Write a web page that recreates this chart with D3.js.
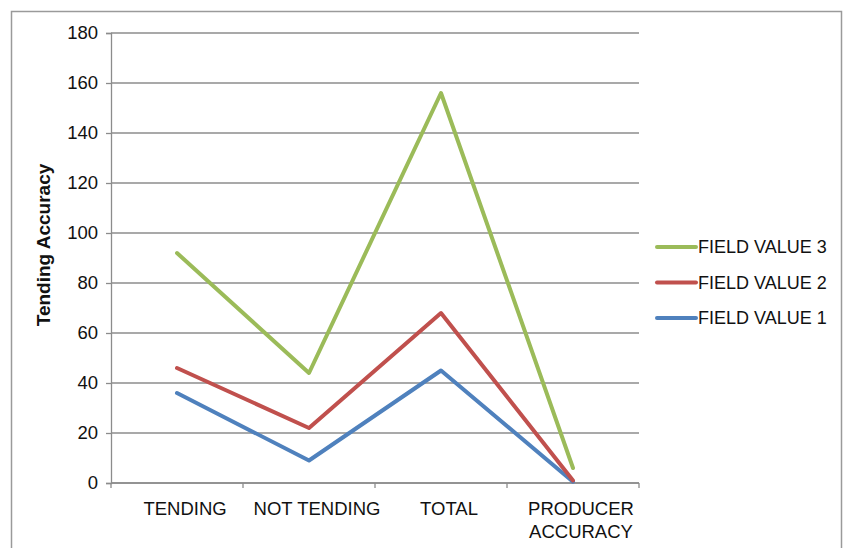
<!DOCTYPE html>
<html>
<head>
<meta charset="utf-8">
<script src="https://cdn.jsdelivr.net/npm/d3@7"></script>
<style>
  html, body { margin: 0; padding: 0; background: #fff; }
  svg { display: block; font-family: "Liberation Sans", Arial, Helvetica, sans-serif; }
</style>
</head>
<body>
<svg id="chart" width="843" height="548"></svg>
<script>
// Categories along the x axis
const categories = ["TENDING", "NOT TENDING", "TOTAL", "PRODUCER ACCURACY"];
// Series values, one per category
const fieldValue1 = [36, 9, 45, 0.5];
const fieldValue2 = [46, 22, 68, 1];
const fieldValue3 = [92, 44, 156, 6];
// Y-axis tick labels
const yTicks = [0, 20, 40, 60, 80, 100, 120, 140, 160, 180];

const series = [
  { name: "FIELD VALUE 3", values: fieldValue3, color: "#9BBB59" },
  { name: "FIELD VALUE 2", values: fieldValue2, color: "#C0504D" },
  { name: "FIELD VALUE 1", values: fieldValue1, color: "#4F81BD" }
];

const svg = d3.select("#chart");
const margin = { left: 111, top: 33, right: 639, bottom: 483 };

// Outer chart frame
svg.append("rect")
  .attr("x", 11.5).attr("y", 11.5)
  .attr("width", 830).attr("height", 560)
  .attr("fill", "#fff")
  .attr("stroke", "#9a9a9a")
  .attr("stroke-width", 1.5);

const x = d3.scaleBand().domain(categories).range([margin.left, margin.right]);
const y = d3.scaleLinear().domain([0, 180]).range([margin.bottom, margin.top]);

// Horizontal gridlines
svg.append("g")
  .selectAll("line")
  .data(yTicks)
  .join("line")
  .attr("x1", margin.left).attr("x2", margin.right)
  .attr("y1", d => y(d)).attr("y2", d => y(d))
  .attr("stroke", "#8c8c8c").attr("stroke-width", 1.3);

// Y axis
const yAxis = svg.append("g")
  .attr("transform", `translate(${margin.left},0)`)
  .call(d3.axisLeft(y).tickValues(yTicks).tickSize(5).tickPadding(8));
yAxis.select(".domain").attr("stroke", "#8c8c8c").attr("stroke-width", 1.3);
yAxis.selectAll(".tick line").attr("stroke", "#8c8c8c").attr("stroke-width", 1.3);
yAxis.selectAll(".tick text")
  .attr("font-size", 18.5).attr("fill", "#111")
  .attr("font-family", "Liberation Sans, Arial, sans-serif");

// X axis with category boundary ticks
const xAxisG = svg.append("g");
xAxisG.append("line")
  .attr("x1", margin.left).attr("x2", margin.right)
  .attr("y1", y(0)).attr("y2", y(0))
  .attr("stroke", "#8c8c8c").attr("stroke-width", 1.3);
const bounds = categories.map(c => x(c)).concat([x(categories[categories.length - 1]) + x.bandwidth()]);
xAxisG.selectAll("line.tick")
  .data(bounds)
  .join("line")
  .attr("class", "tick")
  .attr("x1", d => d).attr("x2", d => d)
  .attr("y1", y(0)).attr("y2", y(0) + 5)
  .attr("stroke", "#8c8c8c").attr("stroke-width", 1.3);

// Category labels (wrapped on spaces when they are wider than the band)
const labelLines = {
  "TENDING": ["TENDING"],
  "NOT TENDING": ["NOT TENDING"],
  "TOTAL": ["TOTAL"],
  "PRODUCER ACCURACY": ["PRODUCER", "ACCURACY"]
};
categories.forEach(c => {
  const cx = x(c) + x.bandwidth() / 2 + 8;
  const t = svg.append("text")
    .attr("x", cx)
    .attr("y", 514.5)
    .attr("text-anchor", "middle")
    .attr("font-size", 18.5)
    .attr("fill", "#111");
  labelLines[c].forEach((ln, i) => {
    t.append("tspan")
      .attr("x", cx)
      .attr("dy", i === 0 ? 0 : 23)
      .text(ln);
  });
});

// Y axis title
svg.append("text")
  .attr("transform", "translate(50,245) rotate(-90)")
  .attr("text-anchor", "middle")
  .attr("font-size", 19)
  .attr("font-weight", "bold")
  .attr("fill", "#111")
  .text("Tending Accuracy");

// Series lines
const line = d3.line()
  .x((d, i) => x(categories[i]) + x.bandwidth() / 2)
  .y(d => y(d));

svg.append("g")
  .selectAll("path")
  .data(series.slice().reverse())
  .join("path")
  .attr("d", s => line(s.values))
  .attr("fill", "none")
  .attr("stroke", s => s.color)
  .attr("stroke-width", 4)
  .attr("stroke-linejoin", "round")
  .attr("stroke-linecap", "round");

// Legend
const legend = svg.append("g");
series.forEach((s, i) => {
  const ly = 247 + i * 35.5;
  legend.append("line")
    .attr("x1", 657).attr("x2", 696)
    .attr("y1", ly).attr("y2", ly)
    .attr("stroke", s.color).attr("stroke-width", 4)
    .attr("stroke-linecap", "round");
  legend.append("text")
    .attr("x", 698).attr("y", ly)
    .attr("dy", "0.36em")
    .attr("font-size", 18)
    .attr("fill", "#111")
    .text(s.name);
});
</script>
</body>
</html>
